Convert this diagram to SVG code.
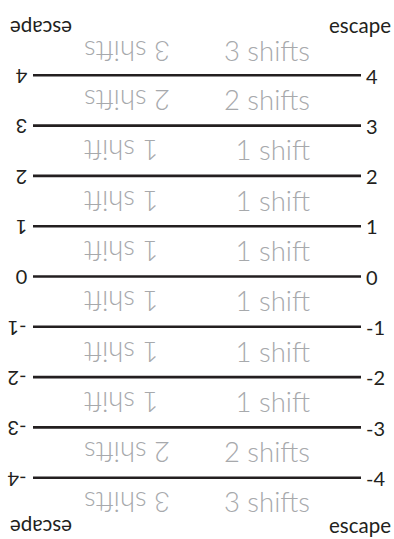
<svg xmlns="http://www.w3.org/2000/svg" width="394" height="539" viewBox="0 0 394 539">
<style>
.ln{stroke:#231f20;stroke-width:2.6;fill:none}
.g{font-family:Lato,"Liberation Sans",sans-serif;font-weight:300;font-size:27.5px;fill:#a7a9ac;text-anchor:end}
.n{font-family:Lato,"Liberation Sans",sans-serif;font-weight:400;font-size:20px;fill:#231f20}
.e{font-family:Lato,"Liberation Sans",sans-serif;font-weight:400;font-size:20.5px;fill:#231f20}
</style>
<rect width="394" height="539" fill="#fff"/>
<g id="connectors">
<line class="ln" x1="33" y1="75.3" x2="361" y2="75.3"/>
<line class="ln" x1="33" y1="125.6" x2="361" y2="125.6"/>
<line class="ln" x1="33" y1="175.9" x2="361" y2="175.9"/>
<line class="ln" x1="33" y1="226.2" x2="361" y2="226.2"/>
<line class="ln" x1="33" y1="276.5" x2="361" y2="276.5"/>
<line class="ln" x1="33" y1="326.8" x2="361" y2="326.8"/>
<line class="ln" x1="33" y1="377.1" x2="361" y2="377.1"/>
<line class="ln" x1="33" y1="427.4" x2="361" y2="427.4"/>
<line class="ln" x1="33" y1="477.7" x2="361" y2="477.7"/>
</g>
<g id="escape-top">
<text class="e" x="391" y="33" text-anchor="end">escape</text>
<text class="e" x="41" y="20.5" text-anchor="middle" transform="rotate(180 41 20.5)">escape</text>
</g>
<g id="escape-bottom">
<text class="e" x="391" y="533" text-anchor="end">escape</text>
<text class="e" x="41" y="520" text-anchor="middle" transform="rotate(180 41 520)">escape</text>
</g>
<g id="row0"><text class="g" x="310" y="61">3 shifts</text><text class="g" x="84" y="61" transform="rotate(180 84 51)">3 shifts</text></g>
<g id="row1"><text class="g" x="310" y="110">2 shifts</text><text class="g" x="84" y="110" transform="rotate(180 84 100)">2 shifts</text></g>
<g id="row2"><text class="g" x="310" y="160.3">1 shift</text><text class="g" x="84" y="160.3" transform="rotate(180 84 150.3)">1 shift</text></g>
<g id="row3"><text class="g" x="310" y="210.6">1 shift</text><text class="g" x="84" y="210.6" transform="rotate(180 84 200.6)">1 shift</text></g>
<g id="row4"><text class="g" x="310" y="260.9">1 shift</text><text class="g" x="84" y="260.9" transform="rotate(180 84 250.9)">1 shift</text></g>
<g id="row5"><text class="g" x="310" y="311.2">1 shift</text><text class="g" x="84" y="311.2" transform="rotate(180 84 301.2)">1 shift</text></g>
<g id="row6"><text class="g" x="310" y="361.5">1 shift</text><text class="g" x="84" y="361.5" transform="rotate(180 84 351.5)">1 shift</text></g>
<g id="row7"><text class="g" x="310" y="411.8">1 shift</text><text class="g" x="84" y="411.8" transform="rotate(180 84 401.8)">1 shift</text></g>
<g id="row8"><text class="g" x="310" y="462.1">2 shifts</text><text class="g" x="84" y="462.1" transform="rotate(180 84 452.1)">2 shifts</text></g>
<g id="row9"><text class="g" x="310" y="512.4">3 shifts</text><text class="g" x="84" y="512.4" transform="rotate(180 84 502.4)">3 shifts</text></g>
<g id="level4"><text class="n" x="366" y="83.5">4</text><text class="n" x="21.5" y="83.5" text-anchor="middle" transform="rotate(180 21.5 76.3)">4</text></g>
<g id="level3"><text class="n" x="366" y="133.8">3</text><text class="n" x="21.5" y="133.8" text-anchor="middle" transform="rotate(180 21.5 126.6)">3</text></g>
<g id="level2"><text class="n" x="366" y="184.1">2</text><text class="n" x="21.5" y="184.1" text-anchor="middle" transform="rotate(180 21.5 176.9)">2</text></g>
<g id="level1"><text class="n" x="366" y="234.4">1</text><text class="n" x="21.5" y="234.4" text-anchor="middle" transform="rotate(180 21.5 227.2)">1</text></g>
<g id="level0"><text class="n" x="366" y="284.7">0</text><text class="n" x="21.5" y="284.7" text-anchor="middle" transform="rotate(180 21.5 277.5)">0</text></g>
<g id="level-1"><text class="n" x="366" y="335">-1</text><text class="n" x="17" y="335" text-anchor="middle" transform="rotate(180 17 327.8)">-1</text></g>
<g id="level-2"><text class="n" x="366" y="385.3">-2</text><text class="n" x="17" y="385.3" text-anchor="middle" transform="rotate(180 17 378.1)">-2</text></g>
<g id="level-3"><text class="n" x="366" y="435.6">-3</text><text class="n" x="17" y="435.6" text-anchor="middle" transform="rotate(180 17 428.4)">-3</text></g>
<g id="level-4"><text class="n" x="366" y="485.9">-4</text><text class="n" x="17" y="485.9" text-anchor="middle" transform="rotate(180 17 478.7)">-4</text></g>
</svg>
